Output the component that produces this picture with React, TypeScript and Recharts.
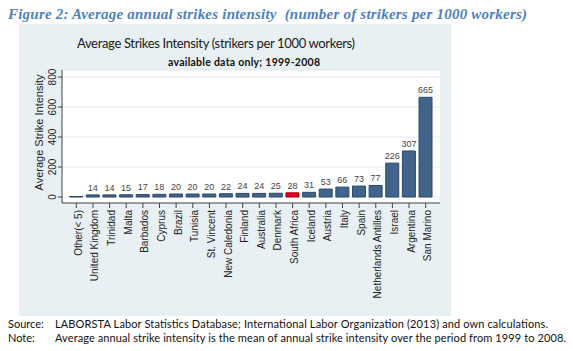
import React from 'react';
import { BarChart, Bar, XAxis, YAxis, CartesianGrid, Cell, LabelList } from 'recharts';

const categories = [
  'Other(< 5)', 'United Kingdom', 'Trinidad', 'Malta', 'Barbados', 'Cyprus', 'Brazil',
  'Tunisia', 'St. Vincent', 'New Caledonia', 'Finland', 'Australia', 'Denmark',
  'South Africa', 'Iceland', 'Austria', 'Italy', 'Spain', 'Netherlands Antilles',
  'Israel', 'Argentina', 'San Marino'
];
const values = [3, 14, 14, 15, 17, 18, 20, 20, 20, 22, 24, 24, 25, 28, 31, 53, 66, 73, 77, 226, 307, 665];
const valueLabels = ['', '14', '14', '15', '17', '18', '20', '20', '20', '22', '24', '24', '25', '28', '31', '53', '66', '73', '77', '226', '307', '665'];
const yTicks = [0, 200, 400, 600, 800];
const highlighted = 'South Africa';

const data = categories.map((name, i) => ({ name, value: values[i], label: valueLabels[i] }));

const BAR = '#41648a';
const BAR_EDGE = '#2d4a6a';
const RED = '#e2001a';
const SANS = 'Liberation Sans, Arial, sans-serif';
const GILL = 'Lato, sans-serif';

const XTick = (props: any) => {
  const { x, y, payload } = props;
  return (
    <text
      transform={`translate(${x + 2},${y}) rotate(-90)`}
      textAnchor="end"
      dominantBaseline="central"
      fontSize={10}
      fontFamily={SANS}
      fill="#222"
    >
      {payload.value}
    </text>
  );
};

const YTick = (props: any) => {
  const { x, y, payload } = props;
  return (
    <text
      transform={`translate(${x},${y}) rotate(-90)`}
      textAnchor="middle"
      fontSize={10}
      fontFamily={SANS}
      fill="#222"
    >
      {payload.value}
    </text>
  );
};

export default function App() {
  return (
    <div style={{ position: 'absolute', left: 0, top: 0, width: 573, height: 351, background: '#fff' }}>
      <div style={{ position: 'absolute', left: 19, top: 24, width: 432, height: 292, background: '#e8f0f3' }} />
      <div style={{ position: 'absolute', left: 0, top: 0 }}>
        <BarChart
          width={573}
          height={351}
          data={data}
          margin={{ top: 70, right: 133, bottom: 58, left: 42 }}
          barCategoryGap="10%"
        >
          <CartesianGrid vertical={false} stroke="#e4ecef" fill="#ffffff" />
          <XAxis
            dataKey="name"
            interval={0}
            height={90}
            padding={{ left: 6, right: 6 }}
            tick={<XTick />}
            tickSize={5}
            stroke="#444"
          />
          <YAxis
            type="number"
            domain={[-40, 847]}
            ticks={yTicks}
            allowDataOverflow
            width={20}
            tick={<YTick />}
            tickSize={4}
            stroke="#444"
          />
          <Bar dataKey="value" isAnimationActive={false} strokeWidth={1}>
            {data.map((d, i) => (
              <Cell
                key={`c-${i}`}
                fill={d.name === highlighted ? RED : BAR}
                stroke={d.name === highlighted ? '#a00012' : BAR_EDGE}
              />
            ))}
            <LabelList dataKey="label" position="top" offset={4} fontSize={9} fill="#444" fontFamily={SANS} />
          </Bar>
        </BarChart>
      </div>
      <svg width={573} height={351} style={{ position: 'absolute', left: 0, top: 0, pointerEvents: 'none' }}>
        <text
          x={8}
          y={19}
          fontFamily="Liberation Serif, serif"
          fontStyle="italic"
          fontWeight="bold"
          fontSize={15}
          fill="#4f81bd"
          textLength={519}
          style={{ whiteSpace: 'pre' }}
        >
          {'Figure 2: Average annual strikes intensity  (number of strikers per 1000 workers)'}
        </text>
        <text x={77} y={48} fontFamily={GILL} fontSize={13} fill="#1a1a1a" textLength={278}>
          Average Strikes Intensity (strikers per 1000 workers)
        </text>
        <text x={168} y={66} fontFamily={GILL} fontWeight="bold" fontSize={10.5} fill="#111" textLength={152}>
          available data only; 1999-2008
        </text>
        <text
          transform="translate(39,132.5) rotate(-90)"
          textAnchor="middle"
          dominantBaseline="central"
          fontFamily={SANS}
          fontSize={11}
          fill="#222"
        >
          Average Strike Intensity
        </text>
        <text x={8} y={327.5} fontFamily={GILL} fontSize={11} fill="#111">Source:</text>
        <text x={55} y={327.5} fontFamily={GILL} fontSize={11} fill="#111" textLength={493}>
          LABORSTA Labor Statistics Database; International Labor Organization (2013) and own calculations.
        </text>
        <text x={8} y={342} fontFamily={GILL} fontSize={11} fill="#111">Note:</text>
        <text x={55} y={342} fontFamily={GILL} fontSize={11} fill="#111" textLength={511}>
          Average annual strike intensity is the mean of annual strike intensity over the period from 1999 to 2008.
        </text>
      </svg>
    </div>
  );
}
